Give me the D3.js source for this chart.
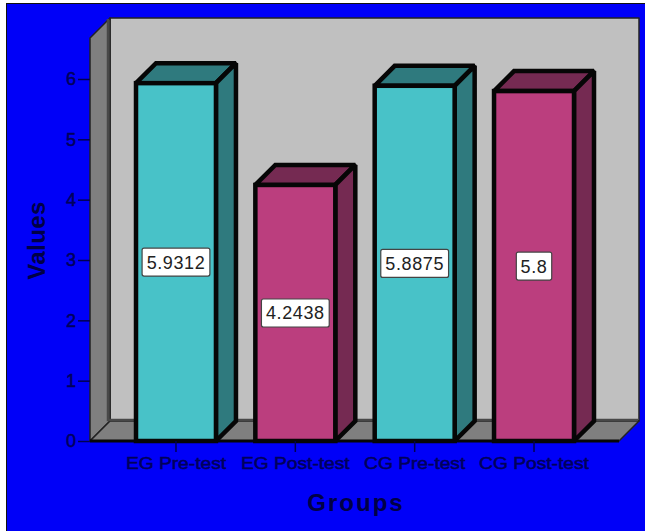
<!DOCTYPE html>
<html>
<head>
<meta charset="utf-8">
<script src="https://cdn.jsdelivr.net/npm/d3@7"></script>
<style>
html,body{margin:0;padding:0;background:#fff;}
svg{display:block;}
text{font-family:"Liberation Sans",Arial,sans-serif;}
</style>
</head>
<body>
<svg id="chart" width="645" height="531"></svg>
<script>
// Group means for the experimental and control groups
const groups = ["EG Pre-test", "EG Post-test", "CG Pre-test", "CG Post-test"];
const values = [5.9312, 4.2438, 5.8875, 5.8];
const valueLabels = ["5.9312", "4.2438", "5.8875", "5.8"];
const yTicks = [0, 1, 2, 3, 4, 5, 6];
const frontColors = ["#48c2c8", "#bb3e7e", "#48c2c8", "#bb3e7e"];
const sideColors = ["#2f7a7e", "#752a52", "#2f7a7e", "#752a52"];

const svg = d3.select("#chart");
const depth = 20;
const inkColor = "#00005a";

const x = d3.scaleBand().domain(groups).range([136, 574]).paddingInner(0.33).paddingOuter(0);
const y = d3.scaleLinear().domain([0, 6]).range([441, 79]);

const floorY = y(0);
const wallTop = 38;
const plotLeft = 90, plotRight = 619;

// Outer panel
svg.append("rect").attr("x", 6.5).attr("y", 3.5).attr("width", 640).attr("height", 530)
  .attr("fill", "#0000f8").attr("stroke", "#111").attr("stroke-width", 1);

// Back wall, side wall and floor of the 3D box
const box = svg.append("g").attr("stroke", "#222").attr("stroke-width", 1.5).attr("stroke-linejoin", "round");
box.append("rect")
  .attr("x", plotLeft + depth).attr("y", wallTop - depth)
  .attr("width", plotRight - plotLeft).attr("height", floorY - wallTop)
  .attr("fill", "#c0c0c0");
box.append("path")
  .attr("d", d3.line()([[plotLeft, wallTop], [plotLeft + depth, wallTop - depth], [plotLeft + depth, floorY - depth], [plotLeft, floorY]]) + "Z")
  .attr("fill", "#7f7f7f");
box.append("path")
  .attr("d", d3.line()([[plotLeft, floorY], [plotLeft + depth, floorY - depth], [plotRight + depth, floorY - depth], [plotRight, floorY]]) + "Z")
  .attr("fill", "#7f7f7f");

// Heavier shading along the inner seams of the box
box.append("path")
  .attr("d", d3.line()([[plotLeft + depth - 2, wallTop - depth + 1], [plotLeft + depth - 2, floorY - depth - 1], [plotRight + depth - 1, floorY - depth - 1]]))
  .attr("fill", "none").attr("stroke", "#484848").attr("stroke-width", 2.5).attr("stroke-linejoin", "miter");

// Bars
const bars = svg.append("g").selectAll("g").data(groups).join("g")
  .attr("stroke", "#060606").attr("stroke-width", 4.5)
  .attr("stroke-linejoin", "miter").attr("stroke-miterlimit", 2);

bars.append("path")
  .attr("fill", (d, i) => sideColors[i])
  .attr("d", (d, i) => {
    const x0 = x(d), x1 = x0 + x.bandwidth(), t = y(values[i]);
    return d3.line()([[x0, t], [x0 + depth, t - depth], [x1 + depth, t - depth], [x1, t]]) + "Z";
  });
bars.append("path")
  .attr("fill", (d, i) => sideColors[i])
  .attr("d", (d, i) => {
    const x1 = x(d) + x.bandwidth(), t = y(values[i]);
    return d3.line()([[x1, t], [x1 + depth, t - depth], [x1 + depth, floorY - depth], [x1, floorY]]) + "Z";
  });
bars.append("rect")
  .attr("x", d => x(d)).attr("y", (d, i) => y(values[i]))
  .attr("width", x.bandwidth()).attr("height", (d, i) => floorY - y(values[i]))
  .attr("fill", (d, i) => frontColors[i]);

// Value labels centred on each bar's front face
const labels = svg.append("g").selectAll("g").data(groups).join("g")
  .attr("transform", (d, i) => `translate(${x(d) + x.bandwidth() / 2},${(y(values[i]) + floorY) / 2})`);
labels.append("rect")
  .attr("x", (d, i) => -(valueLabels[i].length * 5.4 + 1.5)).attr("y", -14)
  .attr("width", (d, i) => valueLabels[i].length * 10.8 + 3).attr("height", 28)
  .attr("rx", 2)
  .attr("fill", "#fff").attr("stroke", "#444").attr("stroke-width", 1.2);
labels.append("text")
  .attr("text-anchor", "middle").attr("dy", "0.36em")
  .attr("font-size", 18).attr("letter-spacing", 0.6).attr("fill", "#222")
  .text((d, i) => valueLabels[i]);

// Y axis
const yAxis = svg.append("g").attr("transform", `translate(${plotLeft},0)`)
  .call(d3.axisLeft(y).tickValues(yTicks).tickFormat(d3.format("d")).tickSize(12).tickPadding(2));
yAxis.select(".domain").remove();
yAxis.selectAll("line").attr("stroke", "#000050").attr("stroke-width", 1.5);
yAxis.selectAll("text").attr("font-size", 18).attr("fill", inkColor).attr("font-family", "Liberation Sans")
  .attr("stroke", inkColor).attr("stroke-width", 0.5);

// X axis
const xAxis = svg.append("g").attr("transform", `translate(0,${floorY})`)
  .call(d3.axisBottom(x).tickSize(11).tickPadding(6));
xAxis.select(".domain").attr("stroke", "#060606").attr("stroke-width", 3).attr("d", `M${plotLeft},0H${plotRight}`);
xAxis.selectAll("line").attr("stroke", "#000050").attr("stroke-width", 1.5);
xAxis.selectAll("text").attr("font-size", 16).attr("fill", inkColor).attr("font-family", "Liberation Sans")
  .attr("stroke", inkColor).attr("stroke-width", 0.5)
  .attr("transform", "scale(1.2,1)");

// Axis titles
svg.append("text").attr("x", 356).attr("y", 511)
  .attr("text-anchor", "middle").attr("font-size", 24).attr("font-weight", "bold")
  .attr("letter-spacing", 2).attr("fill", "#000045").text("Groups");
svg.append("text").attr("transform", "translate(45,240.5) rotate(-90)")
  .attr("text-anchor", "middle").attr("font-size", 24).attr("font-weight", "bold")
  .attr("letter-spacing", 0.4).attr("fill", "#000045").text("Values");
</script>
</body>
</html>
